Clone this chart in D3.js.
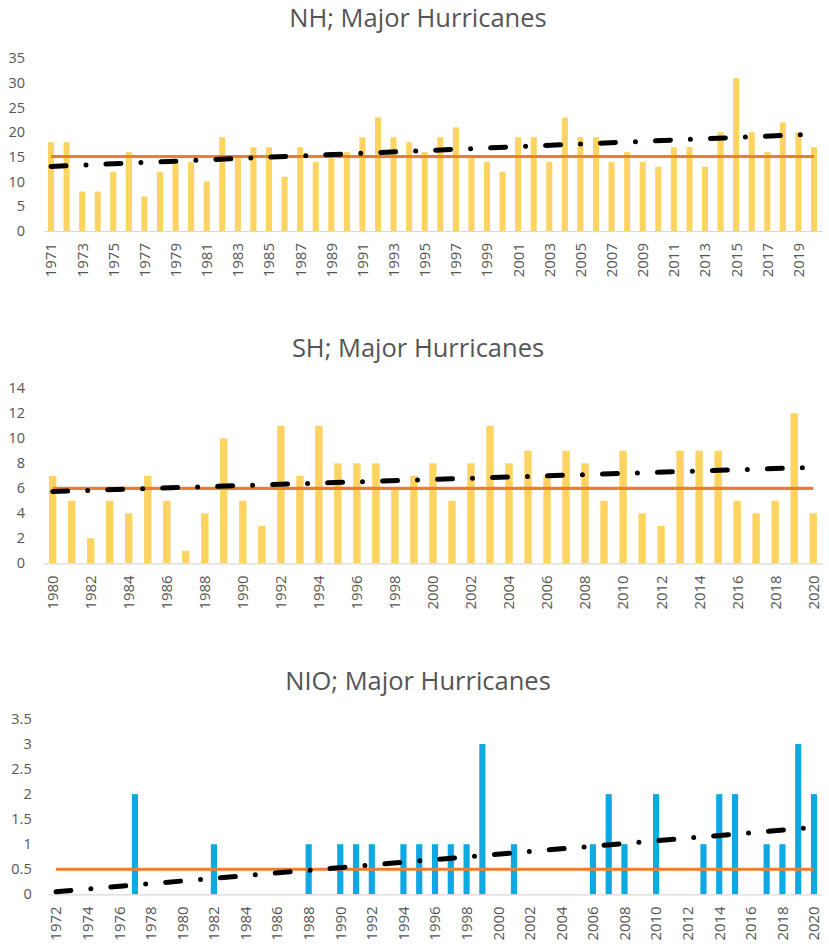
<!DOCTYPE html>
<html>
<head>
<meta charset="utf-8">
<script src="https://cdn.jsdelivr.net/npm/d3@7/dist/d3.min.js"></script>
<style>
  html, body { margin: 0; padding: 0; background: #fff; }
  svg { display: block; }
</style>
</head>
<body>
<svg id="chart"></svg>
<script>
// DATA

const NH_YEARS = d3.range(1971, 2021);
const NH_VALUES = [18, 18, 8, 8, 12, 16, 7, 12, 14, 14,
                   10, 19, 15, 17, 17, 11, 17, 14, 16, 16,
                   19, 23, 19, 18, 16, 19, 21, 15, 14, 12,
                   19, 19, 14, 23, 19, 19, 14, 16, 14, 13,
                   17, 17, 13, 20, 31, 20, 16, 22, 20, 17];
const NH_REFERENCE = 15.1;
const NH_Y_TICKS = [0, 5, 10, 15, 20, 25, 30, 35];

const SH_YEARS = d3.range(1980, 2021);
const SH_VALUES = [7, 5, 2, 5, 4, 7, 5, 1, 4, 10,
                   5, 3, 11, 7, 11, 8, 8, 8, 6, 7,
                   8, 5, 8, 11, 8, 9, 7, 9, 8, 5,
                   9, 4, 3, 9, 9, 9, 5, 4, 5, 12,
                   4];
const SH_REFERENCE = 6;
const SH_Y_TICKS = [0, 2, 4, 6, 8, 10, 12, 14];

const NIO_YEARS = d3.range(1972, 2021);
const NIO_VALUES = [0, 0, 0, 0, 0, 2, 0, 0, 0, 0,
                    1, 0, 0, 0, 0, 0, 1, 0, 1, 1,
                    1, 0, 1, 1, 1, 1, 1, 3, 0, 1,
                    0, 0, 0, 0, 1, 2, 1, 0, 2, 0,
                    0, 1, 2, 2, 0, 1, 1, 3, 2];
const NIO_REFERENCE = 0.5;
const NIO_Y_TICKS = [0, 0.5, 1, 1.5, 2, 2.5, 3, 3.5];

// LAYOUT / STYLE

const WIDTH = 829;
const HEIGHT = 947;
const FONT = '"Open Sans", "Noto Sans", sans-serif';
const TEXT_COLOR = '#555555';
const AXIS_COLOR = '#d9d9d9';
const REF_COLOR = '#ed7d31';
const TREND_COLOR = '#000000';

const panels = [
    {
        title: 'NH; Major Hurricanes', titleY: 27,
        years: NH_YEARS, values: NH_VALUES, reference: NH_REFERENCE,
        yTicks: NH_Y_TICKS, yMax: 35,
        x0: 43.2, x1: 821.8, yBottom: 231, yTop: 58.3, labelRight: 25,
        labelStart: 1971, barColor: '#fdd462'
    },
    {
        title: 'SH; Major Hurricanes', titleY: 357,
        years: SH_YEARS, values: SH_VALUES, reference: SH_REFERENCE,
        yTicks: SH_Y_TICKS, yMax: 14,
        x0: 43.2, x1: 822.7, yBottom: 563.3, yTop: 388.3, labelRight: 25,
        labelStart: 1980, barColor: '#fdd462'
    },
    {
        title: 'NIO; Major Hurricanes', titleY: 690,
        years: NIO_YEARS, values: NIO_VALUES, reference: NIO_REFERENCE,
        yTicks: NIO_Y_TICKS, yMax: 3.5,
        x0: 48.1, x1: 821.9, yBottom: 894.3, yTop: 719, labelRight: 31.7,
        labelStart: 1972, barColor: '#0ea8e2'
    }
];

const svg = d3.select('#chart')
    .attr('width', WIDTH)
    .attr('height', HEIGHT)
    .style('background-color', '#fff');

// Least squares line through (index, value), like the spreadsheet trendline
function linearFit(values) {
    const mx = d3.mean(values, (d, i) => i);
    const my = d3.mean(values);
    let sxy = 0, sxx = 0;
    values.forEach((v, i) => {
        sxy += (i - mx) * (v - my);
        sxx += (i - mx) * (i - mx);
    });
    const slope = sxy / sxx;
    return i => my + slope * (i - mx);
}

function drawPanel(p) {
    const g = svg.append('g');
    const rows = p.years.map((year, i) => ({ year: year, value: p.values[i], index: i }));

    const x = d3.scaleBand()
        .domain(p.years)
        .range([p.x0, p.x1])
        .paddingInner(0.61)
        .paddingOuter(0.305);

    const y = d3.scaleLinear()
        .domain([0, p.yMax])
        .range([p.yBottom, p.yTop]);

    const center = year => x(year) + x.bandwidth() / 2;

    // title
    g.append('text')
        .text(p.title)
        .attr('x', 418)
        .attr('y', p.titleY)
        .style('font-family', FONT)
        .style('font-size', '25.5px')
        .style('fill', TEXT_COLOR)
        .style('text-anchor', 'middle');

    // y axis labels
    const yAxis = g.append('g')
        .attr('transform', `translate(${p.labelRight},0)`)
        .call(d3.axisLeft(y).tickValues(p.yTicks).tickSize(0).tickPadding(0)
            .tickFormat(d3.format('~g')));
    yAxis.select('.domain').remove();
    yAxis.selectAll('text')
        .style('font-family', FONT)
        .style('font-size', '14.5px')
        .style('fill', TEXT_COLOR);

    // bars
    g.selectAll('.bar')
        .data(rows)
        .enter()
        .append('rect')
        .classed('bar', true)
        .attr('x', d => x(d.year))
        .attr('width', x.bandwidth())
        .attr('y', d => y(d.value))
        .attr('height', d => y(0) - y(d.value))
        .style('fill', p.barColor);

    // x axis
    const labelYears = p.years.filter(yr => (yr - p.labelStart) % 2 === 0);
    const xAxis = g.append('g')
        .attr('transform', `translate(0,${p.yBottom})`)
        .call(d3.axisBottom(x).tickValues(labelYears).tickSize(0).tickSizeOuter(0));
    xAxis.select('.domain')
        .style('stroke', AXIS_COLOR)
        .style('stroke-width', 1.2);
    xAxis.selectAll('text')
        .attr('transform', 'rotate(-90)')
        .attr('x', -12)
        .attr('y', 0)
        .attr('dy', '0.36em')
        .style('text-anchor', 'end')
        .style('font-family', FONT)
        .style('font-size', '15px')
        .style('fill', TEXT_COLOR);

    // reference line
    const first = p.years[0];
    const last = p.years[p.years.length - 1];
    g.append('line')
        .attr('x1', center(first))
        .attr('x2', center(last))
        .attr('y1', y(p.reference))
        .attr('y2', y(p.reference))
        .style('stroke', REF_COLOR)
        .style('stroke-width', 3.2);

    // trendline
    const fit = linearFit(p.values);
    g.append('line')
        .attr('x1', center(first))
        .attr('x2', center(last))
        .attr('y1', y(fit(0)))
        .attr('y2', y(fit(p.values.length - 1)))
        .style('stroke', TREND_COLOR)
        .style('stroke-width', 5)
        .style('stroke-linecap', 'round')
        .style('stroke-dasharray', '15 20 0 20');
}

panels.forEach(drawPanel);
</script>
</body>
</html>
